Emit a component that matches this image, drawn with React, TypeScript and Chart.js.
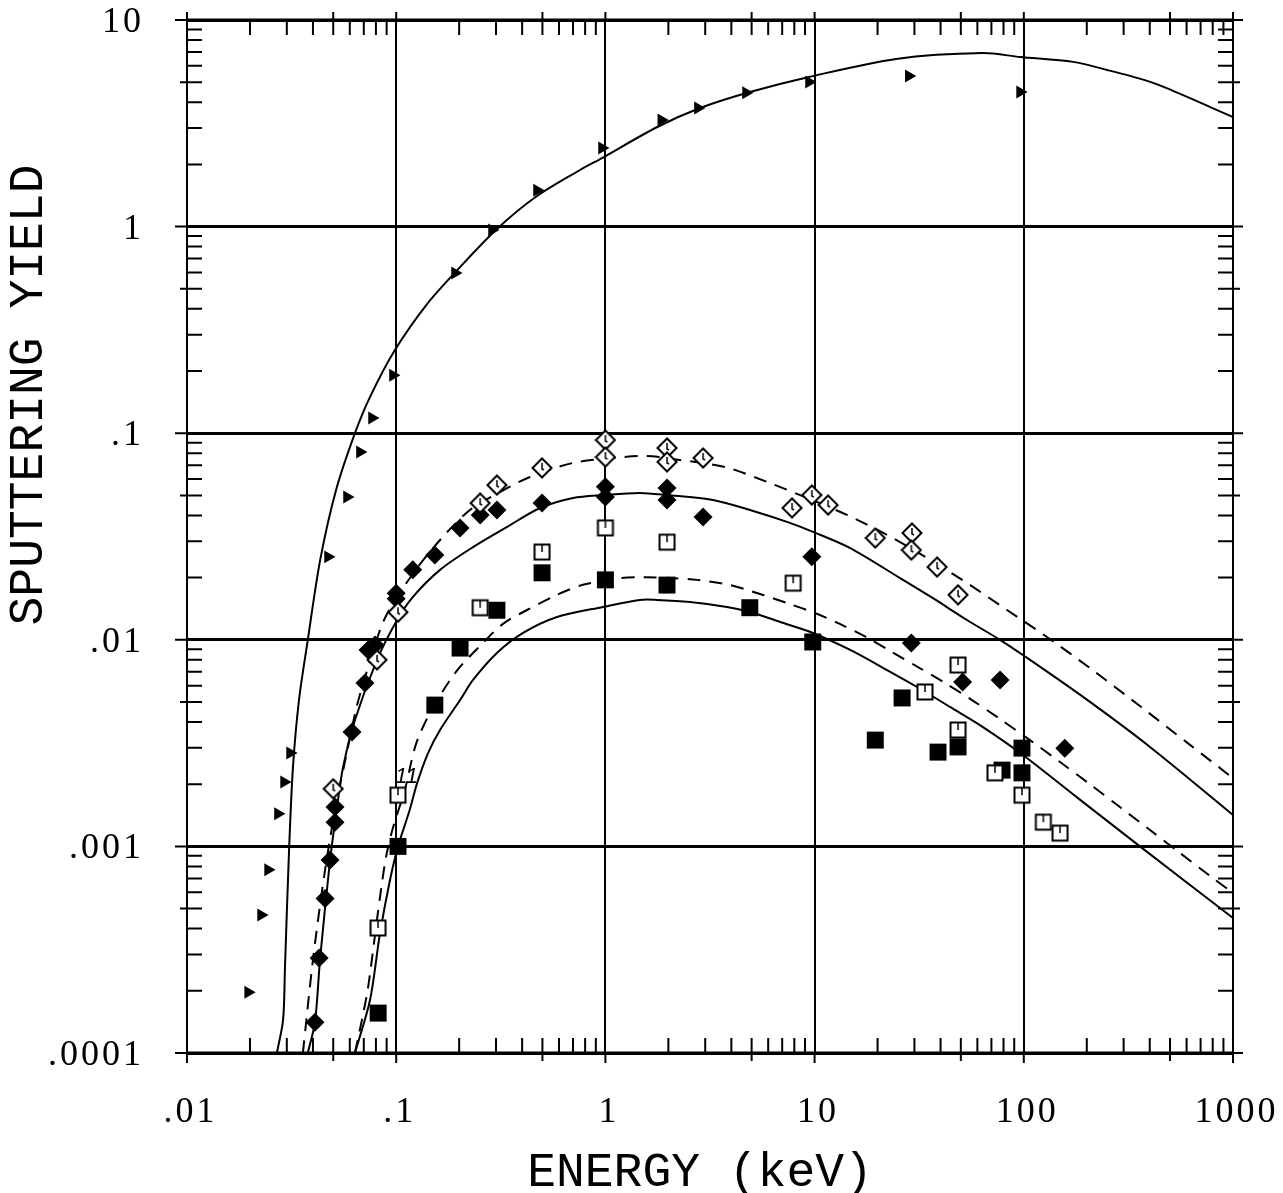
import React, { useEffect, useRef } from 'react';
import { Chart, registerables } from 'chart.js';

Chart.register(...registerables);

// Axis decades and their labels
const xDecades = [0.01, 0.1, 1, 10, 100, 1000];
const xTickLabels = ['.01', '.1', '1', '10', '100', '1000'];
const yDecades = [0.0001, 0.001, 0.01, 0.1, 1, 10];
const yTickLabels = ['.0001', '.001', '.01', '.1', '1', '10'];

// Measured yields (energy in keV)
const triE = [0.0196, 0.0226, 0.0244, 0.0272, 0.0291, 0.0311, 0.0472, 0.0582, 0.0671, 0.0766, 0.0965, 0.191, 0.287, 0.471, 0.963, 1.85, 2.77, 4.7, 9.4, 28.2, 96];
const triY = [1.97e-4, 4.66e-4, 7.7e-4, 1.44e-3, 2.05e-3, 2.83e-3, 0.0252, 0.0491, 0.0811, 0.1186, 0.191, 0.596, 0.963, 1.5, 2.4, 3.28, 3.75, 4.44, 5.01, 5.36, 4.48];

const openDiaE = [0.05, 0.081, 0.102, 0.252, 0.303, 0.498, 1.0, 1.0, 1.97, 1.97, 2.93, 7.8, 9.7, 11.6, 19.5, 29.2, 29, 38.5, 48.5];
const openDiaY = [0.0019, 0.008, 0.0136, 0.0459, 0.0561, 0.0679, 0.0927, 0.0767, 0.0848, 0.0726, 0.0759, 0.0435, 0.0502, 0.0449, 0.0311, 0.0329, 0.0272, 0.0225, 0.0165];

const fillDiaE = [0.0409, 0.0428, 0.0457, 0.0483, 0.051, 0.051, 0.0615, 0.0709, 0.0733, 0.0792, 0.1, 0.1, 0.12, 0.153, 0.202, 0.252, 0.303, 0.498, 1.0, 1.0, 1.97, 1.97, 2.93, 9.7, 29, 51, 77, 157];
const fillDiaY = [1.41e-4, 2.88e-4, 5.6e-4, 8.6e-4, 1.31e-3, 1.55e-3, 3.58e-3, 6.18e-3, 8.93e-3, 9.44e-3, 0.0168, 0.0158, 0.0218, 0.0257, 0.0348, 0.0402, 0.0425, 0.0459, 0.055, 0.0491, 0.0543, 0.0475, 0.0393, 0.0252, 9.66e-3, 6.25e-3, 6.39e-3, 2.99e-3];

const openSqE = [0.0819, 0.102, 0.252, 0.498, 1.0, 1.97, 7.9, 48.5, 33.7, 48.5, 72.8, 98, 124, 149];
const openSqY = [4.03e-4, 1.77e-3, 0.0143, 0.0266, 0.0348, 0.0297, 0.0188, 7.55e-3, 5.59e-3, 3.66e-3, 2.27e-3, 1.77e-3, 1.31e-3, 1.16e-3];

const fillSqE = [0.082, 0.102, 0.153, 0.202, 0.303, 0.498, 1.0, 1.97, 4.9, 9.8, 19.5, 26.2, 38.9, 48.5, 78.7, 98, 98];
const fillSqY = [1.56e-4, 1.0e-3, 4.83e-3, 9.12e-3, 0.0139, 0.0211, 0.0195, 0.0184, 0.0143, 9.76e-3, 3.27e-3, 5.23e-3, 2.86e-3, 3.03e-3, 2.34e-3, 2.99e-3, 2.27e-3];

// Calculated yield curves
const triCurveE = [0.0269, 0.0288, 0.0294, 0.0308, 0.0321, 0.0343, 0.0378, 0.0433, 0.0516, 0.0635, 0.075, 0.0986, 0.1404, 0.202, 0.303, 0.471, 0.756, 0.963, 1.77, 2.834, 4.91, 9.4, 24.5, 63.8, 96, 172, 250, 376, 479, 1000];
const triCurveY = [1e-4, 1.45e-4, 2.61e-4, 1e-3, 2.42e-3, 5.11e-3, 0.01, 0.0243, 0.0531, 0.1, 0.15, 0.2527, 0.422, 0.637, 0.974, 1.406, 1.879, 2.148, 3.034, 3.751, 4.483, 5.3, 6.48, 6.92, 6.62, 6.27, 5.73, 5.13, 4.69, 3.39];

const openDiaCurveE = [0.0358, 0.04, 0.0457, 0.0521, 0.0582, 0.065, 0.0766, 0.0884, 0.119, 0.162, 0.225, 0.313, 0.436, 0.7, 1.087, 1.58, 2.1, 3.73, 5.92, 9.2, 14.28, 22.2, 34.5, 53.5, 83.1, 129, 207, 359, 623, 1000];
const openDiaCurveY = [1e-4, 2.82e-4, 7.69e-4, 1.68e-3, 2.86e-3, 4.83e-3, 8.44e-3, 0.01276, 0.0206, 0.0304, 0.0425, 0.0519, 0.0614, 0.0718, 0.0759, 0.0776, 0.075, 0.0686, 0.0581, 0.0486, 0.0402, 0.0322, 0.0249, 0.01883, 0.01394, 0.01032, 7.3e-3, 4.78e-3, 3.1e-3, 2.14e-3];

const fillDiaCurveE = [0.0378, 0.0409, 0.0433, 0.0483, 0.051, 0.0557, 0.0635, 0.0809, 0.101, 0.12, 0.162, 0.233, 0.339, 0.487, 0.7, 0.975, 1.46, 1.97, 3.27, 4.91, 7.38, 9.83, 14.8, 25.6, 36.8, 53.5, 76.9, 99, 192, 401, 1000];
const fillDiaCurveY = [1e-4, 1.41e-4, 2.88e-4, 8.6e-4, 1.31e-3, 2.42e-3, 4.09e-3, 7.98e-3, 0.01247, 0.0161, 0.0218, 0.0281, 0.0352, 0.04345, 0.0486, 0.0502, 0.0514, 0.0502, 0.0475, 0.0425, 0.0372, 0.0333, 0.0278, 0.0199, 0.0159, 0.01247, 0.01, 8.44e-3, 5.29e-3, 3.03e-3, 1.42e-3];

const openSqCurveE = [0.0635, 0.0686, 0.0733, 0.0783, 0.0837, 0.0894, 0.0965, 0.11, 0.124, 0.145, 0.191, 0.254, 0.324, 0.422, 0.587, 0.773, 1.175, 1.546, 2.04, 2.74, 3.94, 5.67, 7.38, 10.04, 13.2, 17.6, 23.4, 31.2, 42.0, 56.5, 76.9, 107, 149, 207, 288, 401, 558, 777, 1000];
const openSqCurveY = [1e-4, 1.45e-4, 2.06e-4, 3.41e-4, 5.69e-4, 8.89e-4, 1.23e-3, 1.88e-3, 3.1e-3, 4.42e-3, 6.9e-3, 9.44e-3, 0.01194, 0.01394, 0.0165, 0.0184, 0.0199, 0.0201, 0.0199, 0.0195, 0.0184, 0.01648, 0.01506, 0.01348, 0.01193, 0.01032, 8.73e-3, 7.38e-3, 6.18e-3, 5.11e-3, 4.14e-3, 3.27e-3, 2.56e-3, 2.0e-3, 1.55e-3, 1.2e-3, 9.29e-4, 7.19e-4, 5.95e-4];

const fillSqCurveE = [0.0635, 0.075, 0.0837, 0.0934, 0.102, 0.116, 0.126, 0.142, 0.162, 0.202, 0.233, 0.303, 0.404, 0.587, 0.975, 1.46, 1.76, 2.54, 3.81, 4.91, 6.84, 9.83, 14.8, 22.2, 30.9, 44.4, 63.8, 99, 186, 359, 1000];
const fillSqCurveY = [1e-4, 1.81e-4, 3.81e-4, 6.88e-4, 1e-3, 1.5e-3, 2.03e-3, 2.83e-3, 3.66e-3, 5.11e-3, 6.39e-3, 8.63e-3, 0.01079, 0.01289, 0.01442, 0.0156, 0.0156, 0.01524, 0.01442, 0.01364, 0.0122, 0.01079, 8.93e-3, 7.14e-3, 5.91e-3, 4.73e-3, 3.78e-3, 2.77e-3, 1.68e-3, 1e-3, 4.5e-4];

const xTitle = 'ENERGY (keV)';
const yTitle = 'SPUTTERING YIELD';
const curveNote = '11';

const toPoints = (xs: number[], ys: number[]) => xs.map((x, i) => ({ x, y: ys[i] }));

function makeOpenDiamond(): HTMLCanvasElement {
  const c = document.createElement('canvas');
  c.width = 22;
  c.height = 22;
  const g = c.getContext('2d')!;
  g.fillStyle = '#fff';
  g.strokeStyle = '#000';
  g.lineWidth = 2;
  g.beginPath();
  g.moveTo(11, 1.5);
  g.lineTo(20.5, 11);
  g.lineTo(11, 20.5);
  g.lineTo(1.5, 11);
  g.closePath();
  g.fill();
  g.stroke();
  g.lineWidth = 1.5;
  g.beginPath();
  g.moveTo(11, 6);
  g.lineTo(11, 12);
  g.lineTo(13, 13);
  g.stroke();
  return c;
}

function makeOpenSquare(): HTMLCanvasElement {
  const c = document.createElement('canvas');
  c.width = 20;
  c.height = 20;
  const g = c.getContext('2d')!;
  g.fillStyle = '#fff';
  g.strokeStyle = '#000';
  g.lineWidth = 2;
  g.fillRect(2.5, 2.5, 15, 15);
  g.strokeRect(2.5, 2.5, 15, 15);
  g.lineWidth = 1.5;
  g.beginPath();
  g.moveTo(10, 3);
  g.lineTo(10, 10);
  g.stroke();
  return c;
}

function drawSpaced(ctx: CanvasRenderingContext2D, text: string, x: number, y: number, spacing: number, align: 'left' | 'center' | 'right') {
  const chars = Array.from(text);
  const widths = chars.map((c) => ctx.measureText(c).width);
  const total = widths.reduce((s, w) => s + w, 0) + spacing * (chars.length - 1);
  let cx = align === 'left' ? x : align === 'center' ? x - total / 2 : x - total;
  ctx.textAlign = 'left';
  chars.forEach((c, i) => {
    ctx.fillText(c, cx, y);
    cx += widths[i] + spacing;
  });
}

// Plot frame with inward minor ticks on all four sides, plus axis text
const framePlugin = {
  id: 'frame',
  afterDatasetsDraw(chart: any) {
    const { ctx, chartArea: a, scales } = chart;
    const xs = scales.x;
    const ys = scales.y;
    ctx.save();
    ctx.strokeStyle = '#000';
    ctx.lineCap = 'butt';

    ctx.lineWidth = 3;
    ctx.beginPath();
    ctx.moveTo(a.left - 1, a.top);
    ctx.lineTo(a.right + 1, a.top);
    ctx.moveTo(a.left - 1, a.bottom);
    ctx.lineTo(a.right + 1, a.bottom);
    ctx.stroke();
    ctx.lineWidth = 2;
    ctx.beginPath();
    ctx.moveTo(a.left, a.top);
    ctx.lineTo(a.left, a.bottom);
    ctx.moveTo(a.right, a.top);
    ctx.lineTo(a.right, a.bottom);
    ctx.stroke();

    ctx.lineWidth = 2;
    ctx.beginPath();
    const inLen = 15;
    for (let d = 0; d < xDecades.length; d++) {
      const px = xs.getPixelForValue(xDecades[d]);
      ctx.moveTo(px, a.bottom);
      ctx.lineTo(px, a.bottom + 10);
      ctx.moveTo(px, a.top);
      ctx.lineTo(px, a.top - 8);
      if (d === xDecades.length - 1) break;
      for (let m = 2; m <= 9; m++) {
        const p = xs.getPixelForValue(xDecades[d] * m);
        const out = m === 5 ? 8 : 0;
        ctx.moveTo(p, a.bottom + out);
        ctx.lineTo(p, a.bottom - inLen);
        ctx.moveTo(p, a.top - out);
        ctx.lineTo(p, a.top + inLen);
      }
    }
    for (let d = 0; d < yDecades.length; d++) {
      const py = ys.getPixelForValue(yDecades[d]);
      ctx.moveTo(a.left, py);
      ctx.lineTo(a.left - 12, py);
      ctx.moveTo(a.right, py);
      ctx.lineTo(a.right + 10, py);
      if (d === yDecades.length - 1) break;
      for (let m = 2; m <= 9; m++) {
        const p = ys.getPixelForValue(yDecades[d] * m);
        const out = m === 5 ? 7 : 0;
        ctx.moveTo(a.left - out, p);
        ctx.lineTo(a.left + inLen, p);
        ctx.moveTo(a.right + out, p);
        ctx.lineTo(a.right - inLen, p);
      }
    }
    ctx.stroke();
    ctx.restore();
  },
  afterDraw(chart: any) {
    const { ctx, chartArea: a, scales } = chart;
    const xs = scales.x;
    const ys = scales.y;
    ctx.save();
    ctx.fillStyle = '#000';
    ctx.textBaseline = 'alphabetic';
    ctx.font = '36px "Liberation Serif"';
    xDecades.forEach((v, i) => {
      drawSpaced(ctx, xTickLabels[i], xs.getPixelForValue(v) + 2, a.bottom + 69, 3, 'center');
    });
    yDecades.forEach((v, i) => {
      drawSpaced(ctx, yTickLabels[i], a.left - 46, ys.getPixelForValue(v) + 12, 3, 'right');
    });

    ctx.font = '48px "Liberation Mono"';
    ctx.textAlign = 'center';
    ctx.fillText(xTitle, (a.left + a.right) / 2 - 10, a.bottom + 133);

    ctx.save();
    ctx.translate(42, 395);
    ctx.rotate(-Math.PI / 2);
    ctx.textAlign = 'center';
    ctx.fillText(yTitle, 0, 0);
    ctx.restore();

    ctx.font = 'italic 22px "Liberation Sans"';
    ctx.textAlign = 'center';
    ctx.fillText(curveNote, xs.getPixelForValue(0.112), ys.getPixelForValue(0.00202));
    ctx.restore();
  },
};

export default function App() {
  const canvasRef = useRef<HTMLCanvasElement | null>(null);

  useEffect(() => {
    const canvas = canvasRef.current;
    if (!canvas) return;
    const openDiamond = makeOpenDiamond();
    const openSquare = makeOpenSquare();

    const markers = (data: any[], extra: any) => ({
      data,
      showLine: false,
      borderWidth: 0,
      backgroundColor: '#000',
      borderColor: '#000',
      ...extra,
    });
    const curve = (data: any[], dashed: boolean) => ({
      data,
      showLine: true,
      pointRadius: 0,
      borderColor: '#000',
      borderWidth: 2,
      borderDash: dashed ? [13, 9] : [],
      tension: 0.3,
      fill: false,
    });

    const chart = new Chart(canvas, {
      type: 'scatter',
      data: {
        datasets: [
          markers(toPoints(triE, triY), { pointStyle: 'triangle', rotation: 90, pointRadius: 7.5 }),
          markers(toPoints(openDiaE, openDiaY), { pointStyle: openDiamond, pointRadius: 9 }),
          markers(toPoints(openSqE, openSqY), { pointStyle: openSquare, pointRadius: 9 }),
          markers(toPoints(fillDiaE, fillDiaY), { pointStyle: 'rectRot', pointRadius: 9.5 }),
          markers(toPoints(fillSqE, fillSqY), { pointStyle: 'rect', pointRadius: 12 }),
          curve(toPoints(triCurveE, triCurveY), false),
          curve(toPoints(openDiaCurveE, openDiaCurveY), true),
          curve(toPoints(fillDiaCurveE, fillDiaCurveY), false),
          curve(toPoints(openSqCurveE, openSqCurveY), true),
          curve(toPoints(fillSqCurveE, fillSqCurveY), false),
        ] as any,
      },
      options: {
        responsive: false,
        devicePixelRatio: 1,
        animation: false,
        events: [],
        layout: { padding: { left: 0, right: 50, top: 20, bottom: 0 } },
        plugins: {
          legend: { display: false },
          tooltip: { enabled: false },
          title: { display: false },
        },
        scales: {
          x: {
            type: 'logarithmic',
            position: 'bottom',
            min: 0.01,
            max: 1000,
            afterBuildTicks: (s: any) => {
              s.ticks = xDecades.map((value) => ({ value }));
            },
            afterFit: (s: any) => {
              s.height = 140;
            },
            ticks: { display: false },
            grid: { color: '#000', lineWidth: 2, drawTicks: false },
            border: { display: false },
          },
          y: {
            type: 'logarithmic',
            position: 'left',
            min: 0.0001,
            max: 10,
            afterBuildTicks: (s: any) => {
              s.ticks = yDecades.map((value) => ({ value }));
            },
            afterFit: (s: any) => {
              s.width = 187;
            },
            ticks: { display: false },
            grid: { color: '#000', lineWidth: 3, drawTicks: false },
            border: { display: false },
          },
        },
      } as any,
      plugins: [framePlugin],
    });
    return () => chart.destroy();
  }, []);

  return (
    <div style={{ position: 'fixed', left: 0, top: 0, width: 1283, height: 1193, background: '#fff' }}>
      <canvas ref={canvasRef} width={1283} height={1193} style={{ display: 'block', width: 1283, height: 1193 }} />
    </div>
  );
}
